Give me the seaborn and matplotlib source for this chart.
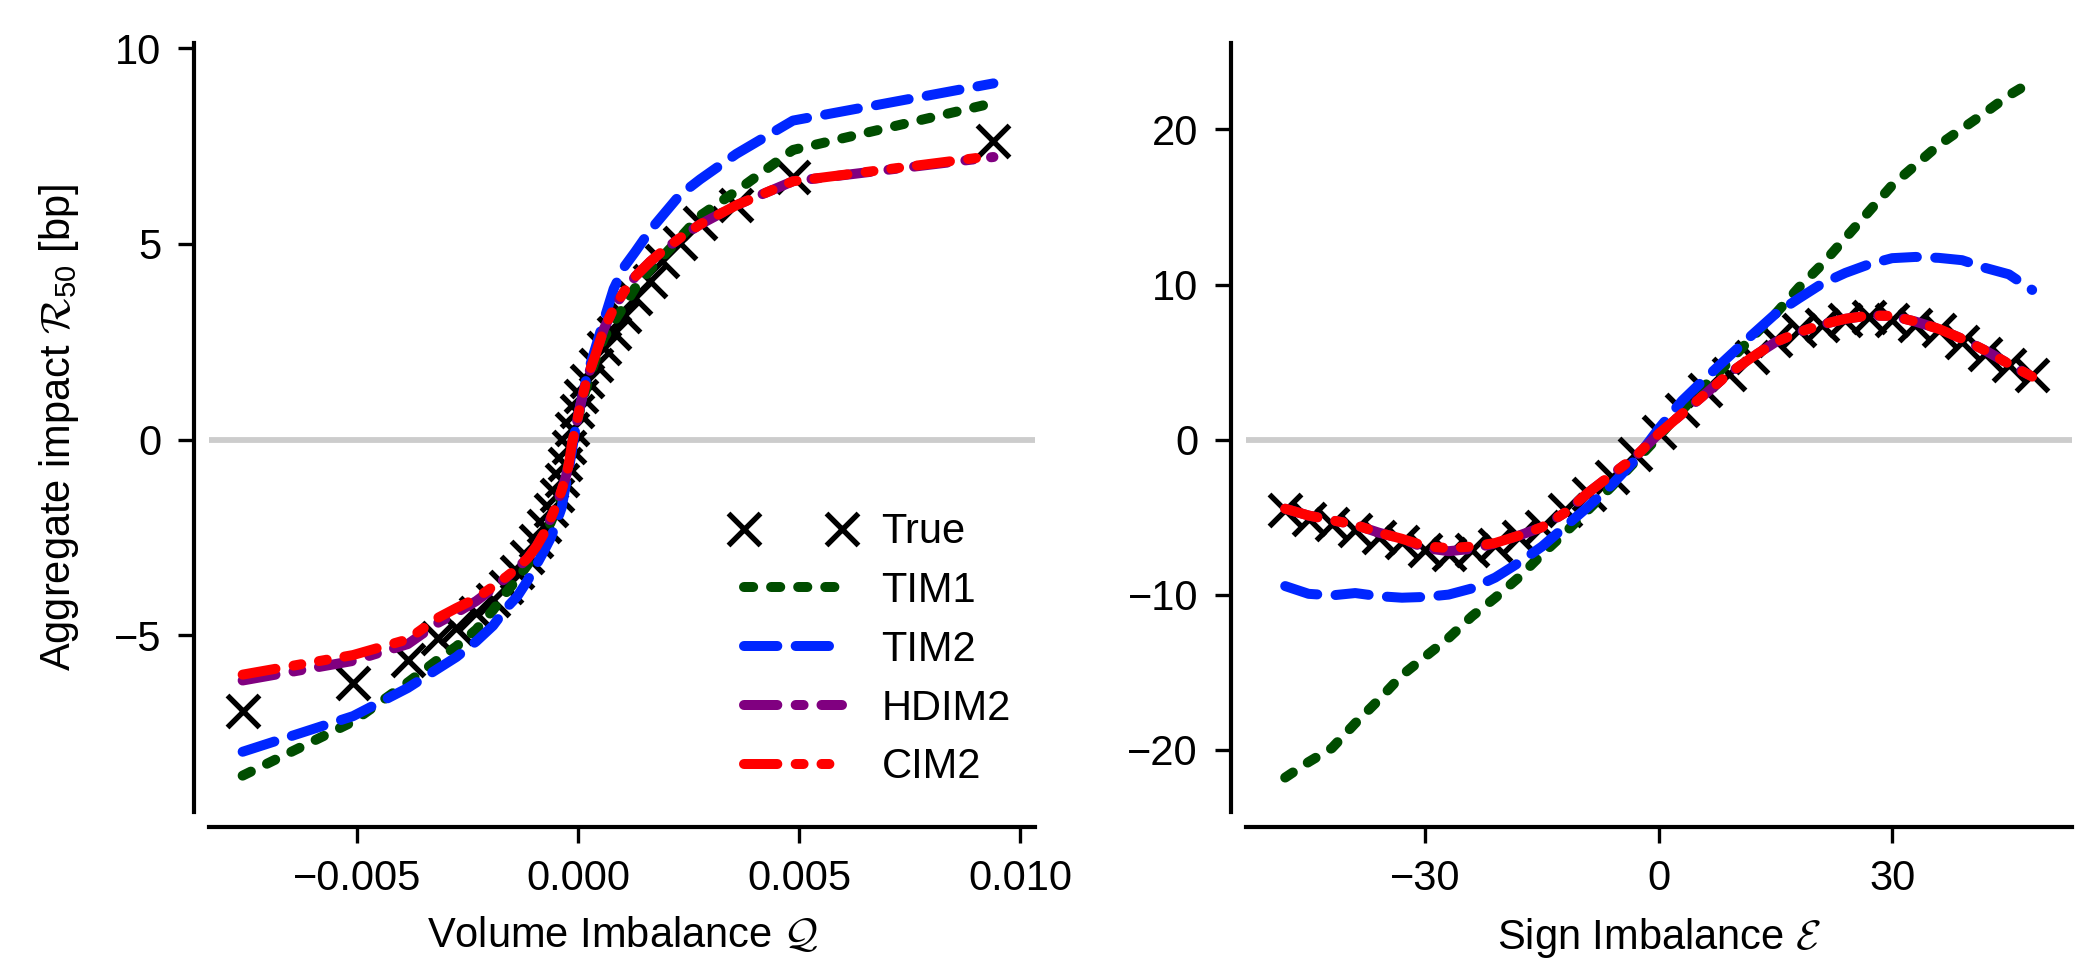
import matplotlib
matplotlib.use("Agg")
import matplotlib.pyplot as plt
import seaborn as sns
import pandas as pd

# ---------------- data: left panel (volume imbalance) ----------------
q_vals = [-0.0076, -0.0051, -0.00386, -0.00318, -0.00276, -0.00231, -0.00193,
          -0.00163, -0.00138, -0.00115, -0.00095, -0.00078, -0.00062, -0.00049,
          -0.00038, -0.00029, -0.00022, -0.00014, -0.00004, 0.00006, 0.0002,
          0.00039, 0.00058, 0.0008, 0.00103, 0.00129, 0.00163, 0.00189, 0.0023,
          0.00276, 0.00358, 0.00486, 0.0094]
q_true = [-6.93, -6.21, -5.62, -5.06, -4.81, -4.43, -4.09, -3.75, -3.38, -3.0,
          -2.6, -2.2, -1.8, -1.42, -1.03, -0.63, -0.18, 0.28, 0.73, 1.11, 1.5,
          1.92, 2.35, 2.73, 3.16, 3.62, 4.05, 4.56, 5.03, 5.54, 6.0, 6.70, 7.62]
q_tim1 = [-8.58, -7.2, -6.2, -5.62, -5.28, -4.85, -4.35, -3.9, -3.55, -3.2,
          -2.85, -2.5, -2.1, -1.75, -1.35, -1.0, -0.6, -0.1, 0.4, 0.85, 1.4,
          2.05, 2.6, 3.0, 3.4, 3.88, 4.35, 4.65, 5.15, 5.72, 6.35, 7.4, 8.6]
q_tim2 = [-7.97, -7.06, -6.34, -5.85, -5.55, -5.15, -4.75, -4.3, -4.0, -3.6,
          -3.2, -2.85, -2.5, -2.1, -1.75, -1.2, -0.8, -0.25, 0.45, 0.95, 1.65,
          2.35, 3.05, 3.85, 4.4, 4.8, 5.35, 5.7, 6.25, 6.65, 7.3, 8.15, 9.1]
q_hdim2 = [-6.15, -5.65, -5.22, -4.68, -4.42, -4.12, -3.8, -3.52, -3.28, -3.03,
           -2.73, -2.4, -2.0, -1.66, -1.3, -0.98, -0.65, -0.09, 0.41, 0.95, 1.57,
           2.17, 2.83, 3.35, 3.77, 4.17, 4.55, 4.8, 5.15, 5.5, 5.99, 6.6, 7.22]
q_cim2 = [-6.0, -5.5, -5.1, -4.55, -4.3, -4.05, -3.75, -3.5, -3.28, -3.03,
          -2.73, -2.4, -2.0, -1.66, -1.3, -0.98, -0.65, -0.09, 0.41, 0.95, 1.57,
          2.17, 2.83, 3.35, 3.77, 4.17, 4.55, 4.8, 5.15, 5.5, 5.99, 6.6, 7.25]

# ---------------- data: right panel (sign imbalance) ----------------
e_vals = [-48, -45, -42, -39, -36, -33, -30, -27, -24, -21, -18, -15, -12, -9,
          -6, -3, 0, 3, 6, 9, 12, 15, 18, 21, 24, 27, 30, 33, 36, 39, 42, 45, 48]
e_true = [-4.56, -5.1, -5.42, -5.85, -6.28, -6.6, -7.14, -7.35, -7.14, -6.82,
          -6.28, -5.64, -4.56, -3.49, -2.41, -0.95, 0.49, 1.89, 3.18, 4.26, 5.33,
          6.41, 7.05, 7.37, 7.7, 7.91, 7.7, 7.37, 7.05, 6.3, 5.55, 4.79, 4.15]
e_tim1 = [-21.8, -20.8, -19.9, -18.3, -16.8, -15.2, -14.0, -12.8, -11.4, -10.2,
          -8.9, -7.4, -6.0, -4.5, -3.0, -1.4, 0.2, 1.9, 3.5, 5.0, 6.6, 8.1, 9.8,
          11.3, 13.0, 14.7, 16.4, 17.7, 19.0, 20.05, 21.1, 22.2, 23.1]
e_tim2 = [-9.45, -9.95, -10.05, -9.9, -10.1, -10.2, -10.15, -10.0, -9.6, -8.9,
          -7.95, -6.9, -5.6, -4.3, -2.9, -1.3, 0.7, 2.5, 3.95, 5.35, 6.75, 8.1,
          9.1, 10.06, 10.75, 11.3, 11.7, 11.78, 11.72, 11.57, 11.07, 10.66, 9.65]
e_hdim2 = [-4.46, -4.9, -5.2, -5.5, -6.0, -6.4, -7.0, -7.2, -7.05, -6.7, -6.2,
           -5.65, -4.7, -3.4, -2.24, -1.1, 0.37, 1.66, 2.95, 4.24, 5.31, 6.28,
           6.92, 7.42, 7.79, 8.0, 7.98, 7.61, 7.14, 6.5, 5.74, 4.88, 4.06]
e_cim2 = [-4.46, -4.9, -5.2, -5.5, -6.0, -6.4, -6.88, -7.0, -6.9, -6.67, -6.2,
          -5.65, -4.7, -3.4, -2.24, -1.1, 0.37, 1.66, 2.95, 4.24, 5.31, 6.28,
          6.92, 7.42, 7.79, 8.0, 7.98, 7.61, 7.14, 6.5, 5.74, 4.88, 4.06]

model_names = ["TIM1", "TIM2", "HDIM2", "CIM2"]
model_colors = ["#004d00", "#0026ff", "#800080", "#ff0000"]
model_styles = [(0, (2.2, 4.3)),
                (0, (8.0, 4.4)),
                (0, (8.0, 4.4, 1.9, 4.3)),
                (0, (8.0, 4.4, 1.9, 4.3, 1.9, 4.3))]

# ---------------- style ----------------
sns.set_theme(style="ticks")
plt.rcParams.update({
    "font.family": ["Liberation Sans", "DejaVu Sans"],
    "font.size": 10,
    "axes.labelsize": 10,
    "xtick.labelsize": 10,
    "ytick.labelsize": 10,
    "legend.fontsize": 10,
    "mathtext.fontset": "custom",
    "mathtext.rm": "Liberation Sans",
    "mathtext.it": "Liberation Sans:italic",
    "mathtext.bf": "Liberation Sans:bold",
    "mathtext.cal": "cmsy10",
    "lines.scale_dashes": False,
    "axes.edgecolor": "black",
    "axes.linewidth": 1.0,
    "xtick.color": "black",
    "ytick.color": "black",
    "xtick.major.size": 3.8,
    "ytick.major.size": 3.8,
    "xtick.major.width": 0.8,
    "ytick.major.width": 0.8,
    "xtick.major.pad": 4.0,
    "ytick.major.pad": 4.0,
    "text.color": "black",
    "axes.labelcolor": "black",
})

fig, axes = plt.subplots(1, 2, figsize=(2097 / 300, 961 / 300), dpi=300)
fig.subplots_adjust(left=0.0997, right=0.988, bottom=0.1554, top=0.9556,
                    wspace=0.2543)

panels = [
    (axes[0], q_vals, q_true, [q_tim1, q_tim2, q_hdim2, q_cim2]),
    (axes[1], e_vals, e_true, [e_tim1, e_tim2, e_hdim2, e_cim2]),
]

for ax, xv, tv, models in panels:
    ax.axhline(0, color="#cccccc", lw=1.4, zorder=0)
    df = pd.DataFrame({"x": xv, "y": tv})
    sns.lineplot(data=df, x="x", y="y", ax=ax, errorbar=None, sort=False,
                 linestyle="none", marker="x", markersize=7.8,
                 markeredgewidth=1.3, markeredgecolor="black", color="black",
                 label="True", legend=False)
    for name, col, ls, yv in zip(model_names, model_colors, model_styles, models):
        dfm = pd.DataFrame({"x": xv, "y": yv})
        sns.lineplot(data=dfm, x="x", y="y", ax=ax, errorbar=None, sort=False,
                     color=col, linestyle=ls, lw=2.4, dash_capstyle="round",
                     solid_capstyle="round", label=name, legend=False)
    sns.despine(ax=ax, offset=3.6)

ax0, ax1 = axes
ax0.set_xlim(-0.00836, 0.01035)
ax0.set_ylim(-9.5, 10.14)
ax0.set_xticks([-0.005, 0.0, 0.005, 0.010])
ax0.set_xticklabels(["\u22120.005", "0.000", "0.005", "0.010"])
ax0.set_yticks([-5, 0, 5, 10])
ax0.set_yticklabels(["\u22125", "0", "5", "10"])
ax0.set_xlabel("Volume Imbalance $\\mathcal{Q}$")
ax0.set_ylabel("Aggregate impact $\\mathcal{R}_{50}$ [bp]", labelpad=8)

ax1.set_xlim(-53.1, 53.1)
ax1.set_ylim(-24.0, 25.6)
ax1.set_xticks([-30, 0, 30])
ax1.set_xticklabels(["\u221230", "0", "30"])
ax1.set_yticks([-20, -10, 0, 10, 20])
ax1.set_yticklabels(["\u221220", "\u221210", "0", "10", "20"])
ax1.set_xlabel("Sign Imbalance $\\mathcal{E}$")
ax1.set_ylabel("")

handles, labels = ax0.get_legend_handles_labels()
ax0.legend(handles, labels, loc="upper left", bbox_to_anchor=(0.612, 0.411),
           frameon=False, numpoints=2, fontsize=10, handlelength=2.95,
           handletextpad=0.65, labelspacing=0.45, borderaxespad=0.0)

fig.savefig("out.png", dpi=300)
